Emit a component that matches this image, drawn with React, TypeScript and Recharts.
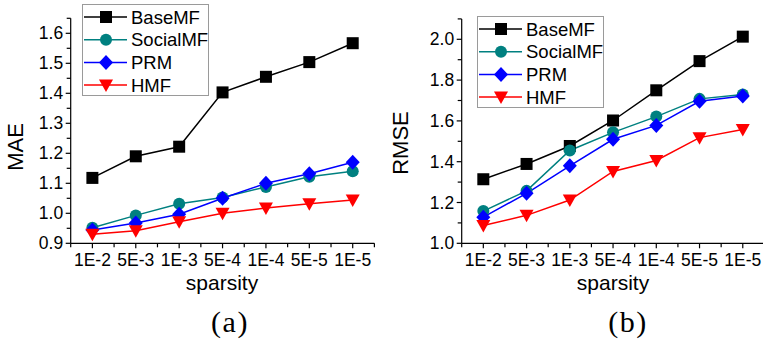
import React from 'react'
import { LineChart, Line, XAxis, YAxis } from 'recharts'

const sparsityLabels = ['1E-2', '5E-3', '1E-3', '5E-4', '1E-4', '5E-5', '1E-5']

// MAE per method
const maeBaseMF = [1.118, 1.19, 1.222, 1.403, 1.455, 1.504, 1.567]
const maeSocialMF = [0.952, 0.993, 1.032, 1.053, 1.088, 1.122, 1.14]
const maePRM = [0.944, 0.968, 0.997, 1.05, 1.1, 1.132, 1.17]
const maeHMF = [0.93, 0.942, 0.972, 1.0, 1.018, 1.032, 1.044]

// RMSE per method
const rmseBaseMF = [1.314, 1.389, 1.477, 1.602, 1.75, 1.893, 2.013]
const rmseSocialMF = [1.158, 1.257, 1.455, 1.544, 1.621, 1.708, 1.73]
const rmsePRM = [1.128, 1.245, 1.38, 1.51, 1.578, 1.696, 1.722]
const rmseHMF = [1.087, 1.137, 1.212, 1.352, 1.406, 1.518, 1.558]

const maeTicks = [0.9, 1.0, 1.1, 1.2, 1.3, 1.4, 1.5, 1.6]
const rmseTicks = [1.0, 1.2, 1.4, 1.6, 1.8, 2.0]

const FONT = 'Arial, "Liberation Sans", sans-serif'

const series = [
  { key: 'BaseMF', color: '#000000', shape: 'square' },
  { key: 'SocialMF', color: '#008080', shape: 'circle' },
  { key: 'PRM', color: '#0000ff', shape: 'diamond' },
  { key: 'HMF', color: '#ff0000', shape: 'triangle' },
]

const buildRows = (cols: number[][]) =>
  sparsityLabels.map((s, i) => ({
    pos: i,
    sparsity: s,
    BaseMF: cols[0][i],
    SocialMF: cols[1][i],
    PRM: cols[2][i],
    HMF: cols[3][i],
  }))

const maeRows = buildRows([maeBaseMF, maeSocialMF, maePRM, maeHMF])
const rmseRows = buildRows([rmseBaseMF, rmseSocialMF, rmsePRM, rmseHMF])

function Marker({ cx, cy, shape, color }: any) {
  if (cx == null || cy == null) return null
  if (shape === 'square') {
    return <rect x={cx - 6} y={cy - 6} width={12} height={12} fill={color} />
  }
  if (shape === 'circle') {
    return <circle cx={cx} cy={cy} r={6} fill={color} />
  }
  if (shape === 'diamond') {
    return <polygon points={`${cx},${cy - 7.5} ${cx + 7},${cy} ${cx},${cy + 7.5} ${cx - 7},${cy}`} fill={color} />
  }
  return <polygon points={`${cx - 7},${cy - 5.5} ${cx + 7},${cy - 5.5} ${cx},${cy + 7}`} fill={color} />
}

// half-step ticks: labelled at every category, unlabelled in between
const xTickPositions = sparsityLabels.flatMap((_, i) => (i === 0 ? [i - 0.5, i, i + 0.5] : [i, i + 0.5]))

const XTick = ({ x, y, payload }: any) => {
  const v = payload.value
  const major = Number.isInteger(v)
  return (
    <g>
      <line x1={x} x2={x} y1={y} y2={y + (major ? 5 : 4)} stroke="#000" strokeWidth={1.2} />
      {major && (
        <text x={x} y={y + 23} textAnchor="middle" fontSize={17.5} fontFamily={FONT} fill="#000">
          {sparsityLabels[v]}
        </text>
      )}
    </g>
  )
}

const makeYTick = (labels: number[]) => ({ x, y, payload }: any) => {
  const v = payload.value
  const major = labels.some((t) => Math.abs(t - v) < 1e-6)
  return (
    <g>
      <line x1={x} x2={x - (major ? 5 : 4)} y1={y} y2={y} stroke="#000" strokeWidth={1.2} />
      {major && (
        <text x={x - 7.5} y={y + 6} textAnchor="end" fontSize={17.5} fontFamily={FONT} fill="#000">
          {v.toFixed(1)}
        </text>
      )}
    </g>
  )
}

const LegendBox = ({ left, top }: { left: number; top: number }) => {
  const width = 127
  const height = 92
  return (
    <svg width={width} height={height} style={{ position: 'absolute', left, top, display: 'block' }}>
      <rect x={0.5} y={0.5} width={width - 1} height={height - 1} fill="#fff" stroke="#9a9a9a" strokeWidth={1} />
      {series.map((s, i) => {
        const cy = 13 + i * 22.7
        return (
          <g key={s.key}>
            <line x1={2} x2={45} y1={cy} y2={cy} stroke={s.color} strokeWidth={1.5} />
            <Marker cx={24} cy={cy} shape={s.shape} color={s.color} />
            <text x={49} y={cy + 6.5} fontSize={18.5} fontFamily={FONT} fill="#000">
              {s.key}
            </text>
          </g>
        )
      })}
    </svg>
  )
}

interface PanelProps {
  rows: any[]
  domain: [number, number]
  majors: number[]
  minorStep: number
  width: number
  margin: { top: number; right: number; left: number; bottom: number }
}

function Panel({ rows, domain, majors, minorStep, width, margin }: PanelProps) {
  const yTicks: number[] = []
  for (let v = domain[0]; v <= domain[1] + 1e-6; v += minorStep) yTicks.push(Math.round(v * 1000) / 1000)

  return (
    <LineChart width={width} height={343} data={rows} margin={margin}>
      <XAxis
        dataKey="pos"
        type="number"
        domain={[-0.5, sparsityLabels.length - 0.5]}
        ticks={xTickPositions}
        interval={0}
        tickSize={0}
        tickMargin={0}
        tickLine={false}
        tick={<XTick />}
        axisLine={{ stroke: '#000', strokeWidth: 1.2 }}
        height={30}
        allowDataOverflow
      />
      <YAxis
        type="number"
        domain={domain}
        ticks={yTicks}
        interval={0}
        tickSize={0}
        tickMargin={0}
        tickLine={false}
        tick={makeYTick(majors)}
        axisLine={{ stroke: '#000', strokeWidth: 1.2 }}
        width={60}
        allowDataOverflow
      />
      {series.map((s) => (
        <Line
          key={s.key}
          dataKey={s.key}
          stroke={s.color}
          strokeWidth={1.5}
          isAnimationActive={false}
          dot={(p: any) => <Marker key={`${s.key}-${p.index}`} cx={p.cx} cy={p.cy} shape={s.shape} color={s.color} />}
          activeDot={false}
        />
      ))}
    </LineChart>
  )
}

const textStyle: React.CSSProperties = { position: 'absolute', fontFamily: FONT, fontSize: 21, lineHeight: 1, whiteSpace: 'nowrap' }

export default function App() {
  return (
    <div style={{ position: 'relative', width: 763, height: 343, overflow: 'hidden', background: '#fff' }}>
      <style>{`body{margin:0}`}</style>
      <div style={{ position: 'absolute', left: 0, top: 0 }}>
        <Panel
          rows={maeRows}
          domain={[0.9, 1.65]}
          majors={maeTicks}
          minorStep={0.05}
          width={380}
          margin={{ top: 18.3, right: 5.6, left: 10.7, bottom: 69.7 }}
        />
      </div>
      <div style={{ position: 'absolute', left: 380, top: 0 }}>
        <Panel
          rows={rmseRows}
          domain={[1.0, 2.1]}
          majors={rmseTicks}
          minorStep={0.1}
          width={390}
          margin={{ top: 18.9, right: 5.6, left: 21.7, bottom: 69.7 }}
        />
      </div>
      <LegendBox left={82} top={4} />
      <LegendBox left={477} top={16} />
      <span style={{ ...textStyle, left: 16, top: 147, fontSize: 22, transform: 'translate(-50%, -50%) rotate(-90deg)' }}>MAE</span>
      <span style={{ ...textStyle, left: 401, top: 143, fontSize: 22, transform: 'translate(-50%, -50%) rotate(-90deg)' }}>RMSE</span>
      <span style={{ ...textStyle, left: 222, top: 272, transform: 'translateX(-50%)' }}>sparsity</span>
      <span style={{ ...textStyle, left: 613, top: 272, transform: 'translateX(-50%)' }}>sparsity</span>
      <span style={{ ...textStyle, left: 230, top: 307, fontFamily: '"Liberation Serif", serif', fontSize: 30, letterSpacing: 1.5, transform: 'translateX(-50%)' }}>(a)</span>
      <span style={{ ...textStyle, left: 628, top: 307, fontFamily: '"Liberation Serif", serif', fontSize: 30, letterSpacing: 1.5, transform: 'translateX(-50%)' }}>(b)</span>
    </div>
  )
}
